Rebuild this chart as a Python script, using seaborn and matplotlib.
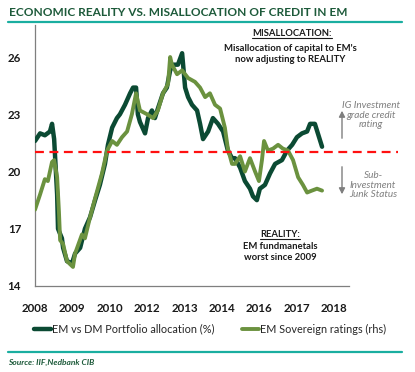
"""EM portfolio allocation vs sovereign ratings, recreated with seaborn."""

import matplotlib

matplotlib.use("Agg")
import matplotlib.pyplot as plt
import numpy as np
import pandas as pd
import seaborn as sns
from matplotlib.lines import Line2D
from matplotlib.patches import FancyArrowPatch

# EM vs DM portfolio allocation (%)
alloc_year = [
    2008.00, 2008.17, 2008.33, 2008.50, 2008.57, 2008.64, 2008.74, 2008.77, 2008.90, 2008.94,
    2009.07, 2009.24, 2009.34, 2009.51, 2009.67, 2009.84, 2010.01, 2010.17, 2010.34, 2010.44,
    2010.58, 2010.74, 2010.84, 2011.01, 2011.18, 2011.28, 2011.38, 2011.44, 2011.51, 2011.68,
    2011.78, 2011.91, 2012.01, 2012.11, 2012.28, 2012.41, 2012.52, 2012.62, 2012.78, 2012.92,
    2013.02, 2013.12, 2013.25, 2013.42, 2013.52, 2013.62, 2013.79, 2013.95, 2014.12, 2014.29,
    2014.45, 2014.59, 2014.69, 2014.86, 2015.02, 2015.19, 2015.29, 2015.42, 2015.52, 2015.69,
    2015.86, 2016.03, 2016.26, 2016.43, 2016.60, 2016.76, 2016.93, 2017.10, 2017.20, 2017.36,
    2017.46, 2017.60,
]
alloc_value = [
    21.6, 22.0, 21.9, 22.1, 22.5, 21.7, 18.8, 17.0, 16.5, 16.0,
    15.3, 15.2, 15.7, 16.0, 17.0, 17.6, 18.5, 19.3, 20.4, 21.4,
    22.3, 22.8, 23.0, 23.5, 24.1, 24.4, 24.4, 23.0, 22.6, 22.0,
    22.8, 23.2, 22.8, 23.3, 24.1, 24.4, 25.3, 25.6, 25.6, 26.2,
    24.4, 23.9, 23.5, 23.2, 22.5, 21.7, 22.1, 22.8, 22.5, 22.1,
    21.1, 20.7, 20.7, 20.2, 19.5, 19.1, 18.7, 18.5, 19.1, 19.3,
    19.9, 20.4, 20.6, 21.1, 21.4, 21.8, 22.0, 22.1, 22.5, 22.5,
    22.0, 21.3,
]

# EM sovereign ratings (rhs), drawn on the same scale as in the source
rating_year = [
    2008.00, 2008.17, 2008.33, 2008.43, 2008.57, 2008.64, 2008.74, 2008.80, 2008.84, 2008.94,
    2009.07, 2009.27, 2009.34, 2009.57, 2009.67, 2009.84, 2010.01, 2010.24, 2010.41, 2010.58,
    2010.74, 2010.91, 2011.08, 2011.24, 2011.38, 2011.51, 2011.75, 2011.95, 2012.11, 2012.28,
    2012.45, 2012.52, 2012.58, 2012.75, 2012.92, 2013.12, 2013.35, 2013.52, 2013.69, 2013.85,
    2014.02, 2014.19, 2014.35, 2014.45, 2014.59, 2014.69, 2014.86, 2015.02, 2015.19, 2015.36,
    2015.49, 2015.59, 2015.66, 2015.79, 2015.96, 2016.13, 2016.29, 2016.46, 2016.63, 2016.80,
    2016.96, 2017.10, 2017.26, 2017.43, 2017.60,
]
rating_value = [
    18.0, 18.8, 19.6, 19.5, 20.5, 20.6, 19.7, 17.9, 16.4, 16.2,
    15.3, 15.0, 15.7, 16.7, 16.5, 17.6, 18.6, 19.9, 21.1, 21.6,
    21.4, 21.8, 22.1, 23.0, 24.1, 23.2, 23.0, 22.8, 23.2, 24.1,
    24.6, 26.0, 25.6, 25.1, 25.3, 24.9, 24.7, 24.4, 23.9, 24.1,
    23.5, 23.3, 22.3, 21.2, 20.4, 20.4, 20.8, 20.0, 20.7, 20.0,
    19.5, 20.6, 21.6, 21.1, 21.2, 21.4, 21.2, 21.1, 20.6, 19.7,
    19.3, 18.9, 19.0, 19.1, 19.0,
]

threshold = 21
x_tick_labels = ["2008", "2009", "2010", "2012", "2013", "2014", "2016", "2017", "2018"]
y_tick_labels = [14, 17, 20, 23, 26]

DARK = "#0b4a33"
OLIVE = "#6b923f"
TEAL = "#1aaea0"
TITLE_C = "#1d5a3a"
GREY = "#7f7f7f"
INK = "#1a1a1a"

W, H = 415, 372


def fx(px):
    return px / W


def fy(py):
    return 1 - py / H


def main():
    sns.set_style("white")
    plt.rcParams["font.family"] = ["Lato", "DejaVu Sans"]

    fig = plt.figure(figsize=(W / 100, H / 100), dpi=100)
    ax = fig.add_axes([fx(35), fy(286), fx(398) - fx(35), fy(25) - fy(286)])

    alloc = pd.DataFrame({"year": alloc_year, "value": alloc_value})
    rating = pd.DataFrame({"year": rating_year, "value": rating_value})

    sns.lineplot(data=alloc, x="year", y="value", color=DARK, lw=3.2, ax=ax,
                 label="EM vs DM Portfolio allocation (%)", zorder=3)
    sns.lineplot(data=rating, x="year", y="value", color=OLIVE, lw=2.8, ax=ax,
                 label="EM Sovereign ratings (rhs)", zorder=4)
    ax.axhline(threshold, color="#ff1010", lw=1.6, ls=(0, (4, 2.5)), zorder=5)

    ax.set_xlim(2008, 2020.14)
    ax.set_ylim(14, 27.68)

    n = len(x_tick_labels)
    ax.set_xticks([2008 + 1.25 * i for i in range(n)])
    ax.set_xticklabels(x_tick_labels, fontsize=8.3, fontweight="bold", color=INK)
    ax.set_xticks(np.arange(2008, 2018.51, 0.25), minor=True)
    ax.set_yticks(y_tick_labels)
    ax.set_yticklabels([str(v) for v in y_tick_labels], fontsize=8.3, fontweight="bold",
                       color=INK)
    ax.set_yticks(np.arange(14, 28, 1), minor=True)
    ax.tick_params(axis="x", which="both", direction="out", length=3, width=0.8,
                   color=GREY, pad=9)
    ax.tick_params(axis="y", which="both", direction="in", length=3, width=0.8,
                   color=GREY, pad=10)
    ax.set_xlabel("")
    ax.set_ylabel("")

    for side in ("top", "right"):
        ax.spines[side].set_visible(False)
    for side in ("left", "bottom"):
        ax.spines[side].set_color(GREY)
        ax.spines[side].set_linewidth(0.9)
    ax.spines["bottom"].set_bounds(2008, 2018.5)

    ax.get_legend().remove()
    handles, labels = ax.get_legend_handles_labels()
    fig.legend(handles[:2], labels[:2], loc="center", ncol=2, frameon=False,
               bbox_to_anchor=(fx(210), fy(329)), fontsize=7.8, handlelength=1.5,
               handletextpad=0.1, columnspacing=2.6)

    # title, rules, source
    fig.text(fx(9), fy(13), "ECONOMIC REALITY VS. MISALLOCATION OF CREDIT IN EM",
             fontsize=8.6, fontweight="bold", color=TITLE_C, va="center", ha="left")
    fig.add_artist(Line2D([fx(8), fx(402)], [fy(22), fy(22)], color=TEAL, lw=1.6))
    fig.add_artist(Line2D([fx(8), fx(402)], [fy(352), fy(352)], color=TEAL, lw=1.6))
    fig.text(fx(8), fy(362), "Source: IIF,Nedbank CIB", fontsize=6, fontweight="bold",
             style="italic", color=TITLE_C, va="center", ha="left")

    # annotations
    heads = []
    heads.append(fig.text(fx(292), fy(36), "MISALLOCATION:", fontsize=6.8, fontweight="bold",
                          ha="center", va="baseline", color=INK))
    fig.text(fx(290), fy(54), "Misallocation of capital to EM's\nnow adjusting to REALITY",
             fontsize=6.8, fontweight="bold", ha="center", va="center", color=INK,
             linespacing=1.25)
    heads.append(fig.text(fx(280), fy(237), "REALITY:", fontsize=6.8, fontweight="bold",
                          ha="center", va="baseline", color=INK))
    fig.text(fx(280), fy(252), "EM fundmanetals\nworst since 2009", fontsize=6.8,
             fontweight="bold", ha="center", va="center", color=INK, linespacing=1.25)
    fig.text(fx(371), fy(115), "IG Investment\ngrade credit\nrating", fontsize=7.2,
             style="italic", ha="center", va="center", color=GREY, linespacing=1.1)
    fig.text(fx(373), fy(185), "Sub-\nInvestment\nJunk Status", fontsize=7.2,
             style="italic", ha="center", va="center", color=GREY, linespacing=1.1)

    arrow = dict(arrowstyle="-|>,head_width=0.18,head_length=0.35", color=GREY, lw=1.0)
    fig.add_artist(FancyArrowPatch((fx(342), fy(141)), (fx(342), fy(108)),
                                   transform=fig.transFigure, mutation_scale=10, **arrow))
    fig.add_artist(FancyArrowPatch((fx(342), fy(164)), (fx(342), fy(197)),
                                   transform=fig.transFigure, mutation_scale=10, **arrow))

    # underline the bold headers just below their baseline
    fig.canvas.draw()
    renderer = fig.canvas.get_renderer()
    inv = fig.transFigure.inverted()
    for t in heads:
        bb = t.get_window_extent(renderer)
        (x0, _), (x1, _) = inv.transform([(bb.x0, bb.y0), (bb.x1, bb.y1)])
        yb = t.get_position()[1] - 1.5 / H
        fig.add_artist(Line2D([x0, x1], [yb, yb], color=INK, lw=0.8))

    fig.savefig("out.png", dpi=100)


if __name__ == "__main__":
    main()
